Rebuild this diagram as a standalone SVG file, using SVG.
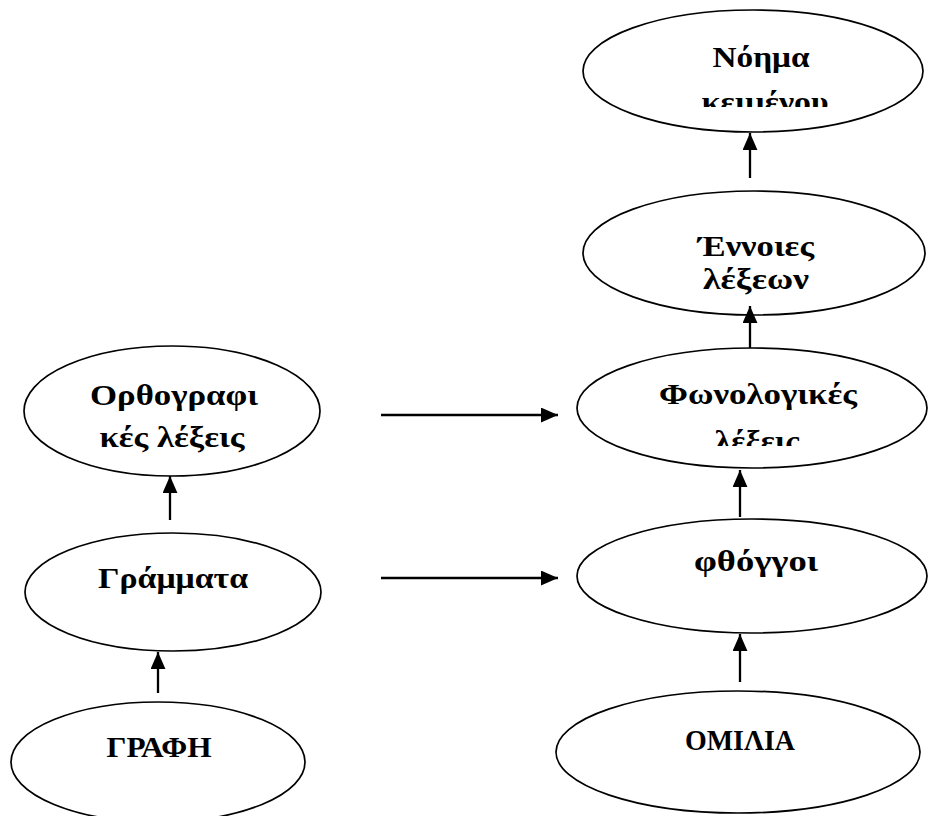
<svg xmlns="http://www.w3.org/2000/svg" width="931" height="816" viewBox="0 0 931 816">
<style>
.node ellipse{fill:#fff;stroke:#000;stroke-width:1.7}
.node text{font-family:"Liberation Serif","Times New Roman",serif;font-weight:bold;font-size:30px;fill:#000;text-anchor:middle}
.conn line{stroke:#000;stroke-width:2.3;marker-end:url(#ah)}
</style>
<defs>
<marker id="ah" viewBox="0 0 16 14" refX="16" refY="7" markerWidth="17" markerHeight="15" markerUnits="userSpaceOnUse" orient="auto">
<path d="M0,0 L16,7 L0,14 z" fill="#000"/>
</marker>
<clipPath id="c1"><rect x="580" y="0" width="351" height="107"/></clipPath>
<clipPath id="c2"><rect x="580" y="300" width="351" height="146"/></clipPath>
</defs>
<g id="n_noima" class="node">
<ellipse cx="753" cy="71" rx="170" ry="61"/>
<text x="761" y="67" textLength="97" lengthAdjust="spacingAndGlyphs">Νόημα</text>
<text x="765" y="112" textLength="127" lengthAdjust="spacingAndGlyphs" clip-path="url(#c1)">κειμένου</text>
</g>
<g id="n_ennoies" class="node">
<ellipse cx="754" cy="253" rx="171" ry="62"/>
<text x="756" y="256" textLength="116" lengthAdjust="spacingAndGlyphs">Έννοιες</text>
<text x="756" y="289" textLength="106" lengthAdjust="spacingAndGlyphs">λέξεων</text>
</g>
<g id="n_fonol" class="node">
<ellipse cx="752" cy="408" rx="175" ry="60"/>
<text x="758" y="404" textLength="198" lengthAdjust="spacingAndGlyphs">Φωνολογικές</text>
<text x="757" y="451" textLength="85" lengthAdjust="spacingAndGlyphs" clip-path="url(#c2)">λέξεις</text>
</g>
<g id="n_fthongoi" class="node">
<ellipse cx="752" cy="576" rx="175" ry="57"/>
<text x="756" y="571" textLength="124" lengthAdjust="spacingAndGlyphs">φθόγγοι</text>
</g>
<g id="n_omilia" class="node">
<ellipse cx="738" cy="752" rx="182" ry="61"/>
<text x="740" y="750" textLength="110" lengthAdjust="spacingAndGlyphs">ΟΜΙΛΙΑ</text>
</g>
<g id="n_orth" class="node">
<ellipse cx="172" cy="411" rx="148" ry="65"/>
<text x="174" y="405" textLength="168" lengthAdjust="spacingAndGlyphs">Ορθογραφι</text>
<text x="172" y="447" textLength="145" lengthAdjust="spacingAndGlyphs">κές λέξεις</text>
</g>
<g id="n_gramm" class="node">
<ellipse cx="173" cy="592" rx="148" ry="59"/>
<text x="173" y="588" textLength="150" lengthAdjust="spacingAndGlyphs">Γράμματα</text>
</g>
<g id="n_grafi" class="node">
<ellipse cx="158" cy="762" rx="147" ry="60"/>
<text x="159" y="757" textLength="105" lengthAdjust="spacingAndGlyphs">ΓΡΑΦΗ</text>
</g>
<g id="connectors" class="conn">
<line x1="750" y1="178" x2="750" y2="133"/>
<line x1="750" y1="348" x2="750" y2="306"/>
<line x1="740" y1="517" x2="740" y2="470"/>
<line x1="740" y1="682" x2="740" y2="634"/>
<line x1="170" y1="520" x2="170" y2="476"/>
<line x1="158" y1="693" x2="158" y2="652"/>
<line x1="381" y1="415" x2="558" y2="415"/>
<line x1="381" y1="578" x2="558" y2="578"/>
</g>
</svg>
